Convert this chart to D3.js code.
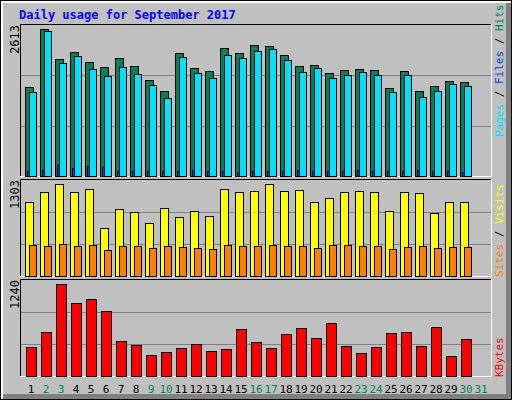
<!DOCTYPE html>
<html>
<head>
<meta charset="utf-8">
<script src="https://cdn.jsdelivr.net/npm/d3@7"></script>
<style>
  body { margin: 0; background: #fff; }
  text { font-family: "DejaVu Sans Mono", monospace; }
</style>
</head>
<body>
<div class="chart"></div>
<script>
// values
const days = d3.range(1, 32);
const weekend = [2, 3, 9, 10, 16, 17, 23, 24, 30, 31];
const hits = [1535, 2538, 2019, 2140, 1967, 1881, 2036, 1898, 1656, 1465, 2123, 1863, 1811, 2209, 2123, 2261, 2244, 2088, 1898, 1915, 1777, 1829, 1846, 1829, 1517, 1811, 1465, 1552, 1638, 1621];
const files = [1448, 2503, 1950, 2071, 1846, 1725, 1881, 1759, 1569, 1344, 2054, 1777, 1690, 2088, 2036, 2157, 2192, 2002, 1794, 1863, 1690, 1742, 1794, 1742, 1448, 1742, 1362, 1465, 1586, 1552];
const pages = [87, 104, 190, 139, 173, 156, 87, 87, 87, 87, 87, 104, 87, 87, 70, 87, 87, 87, 104, 87, 87, 87, 104, 87, 87, 87, 104, 87, 87, 70];
const visits = [1004, 1140, 1249, 1140, 1181, 651, 909, 869, 719, 923, 801, 882, 814, 1181, 1140, 1154, 1249, 1154, 1167, 1004, 1059, 1140, 1154, 1140, 882, 1140, 1126, 855, 1004, 1004];
const sites = [421, 407, 434, 407, 421, 353, 407, 407, 380, 407, 394, 380, 366, 421, 407, 407, 421, 407, 407, 380, 421, 421, 407, 407, 366, 394, 407, 380, 394, 394];
const kbytes = [369, 564, 1188, 941, 993, 837, 447, 395, 277, 304, 356, 408, 317, 343, 603, 434, 356, 538, 616, 486, 681, 382, 291, 369, 551, 564, 382, 629, 252, 473];
const maxHits = 2613, maxVisits = 1303, maxKB = 1240;

const svg = d3.select(".chart").append("svg")
    .attr("width", 512).attr("height", 400);

// frame with bevel
svg.append("rect").attr("x", 0).attr("y", 0).attr("width", 512).attr("height", 400).attr("fill", "#000");
svg.append("rect").attr("x", 1).attr("y", 1).attr("width", 510).attr("height", 398).attr("fill", "#fff");
svg.append("rect").attr("x", 3).attr("y", 3).attr("width", 508).attr("height", 396).attr("fill", "#808080");
svg.append("rect").attr("x", 3).attr("y", 3).attr("width", 503).attr("height", 391).attr("fill", "#c0c0c0");

svg.append("text").attr("x", 19).attr("y", 19)
    .attr("font-size", 12).attr("font-weight", "bold").attr("fill", "#0000ff")
    .text("Daily usage for September 2017");

const x = d3.scaleLinear().domain([1, 31]).range([31, 481]);
const left = 20, right = 491;

const panels = [
    { top: 25, bottom: 176, max: maxHits },
    { top: 180, bottom: 276, max: maxVisits },
    { top: 280, bottom: 376, max: maxKB }
];
panels.forEach(p => {
    p.y = d3.scaleLinear().domain([0, p.max]).range([p.bottom, p.top]);
    const g = svg.append("g");
    [1 / 3, 2 / 3].forEach(f => {
        g.append("line").attr("x1", left).attr("x2", right)
            .attr("y1", Math.round(p.y(p.max * f)) + 0.5).attr("y2", Math.round(p.y(p.max * f)) + 0.5)
            .attr("stroke", "#808080");
    });
    g.append("path").attr("d", `M${left + 0.5},${p.bottom}V${p.top - 0.5}H${right}`)
        .attr("stroke", "#000").attr("fill", "none");
    g.append("path").attr("d", `M${left},${p.bottom + 0.5}H${right + 0.5}V${p.top - 1}`)
        .attr("stroke", "#fff").attr("fill", "none");
    svg.append("text")
        .attr("transform", `translate(19,${p.top}) rotate(-90)`)
        .attr("text-anchor", "end").attr("font-size", 12)
        .text(p.max);
});

function bars(data, panel, dx, w, color) {
    svg.append("g").selectAll("rect").data(data).join("rect")
        .attr("x", (d, i) => x(i + 1) + dx + 0.5)
        .attr("y", d => Math.round(panel.y(d)) + 0.5)
        .attr("width", w)
        .attr("height", d => panel.bottom - Math.round(panel.y(d)))
        .attr("fill", color).attr("stroke", "#000");
}
bars(hits, panels[0], -6, 8, "#00805c");
bars(files, panels[0], -2, 7, "#00e0ff");
bars(pages, panels[0], -4, 2, "#0040ff");
bars(visits, panels[1], -6, 8, "#ffff00");
bars(sites, panels[1], -2, 7, "#ff8000");
bars(kbytes, panels[2], -5, 10, "#ff0000");

// day labels
svg.append("g").selectAll("text").data(days).join("text")
    .attr("x", d => x(d)).attr("y", 393)
    .attr("text-anchor", "middle").attr("font-size", 11)
    .attr("fill", d => weekend.includes(d) ? "#00805c" : "#000")
    .text(d => d);

// right legends
function legend(y, parts) {
    const t = svg.append("text")
        .attr("transform", `translate(503,${y}) rotate(-90)`)
        .attr("font-size", 11);
    parts.forEach(([s, c]) => t.append("tspan").attr("fill", c).text(s));
}
legend(137, [["Pages", "#00e0ff"], [" / ", "#000"], ["Files", "#0040ff"], [" / ", "#000"], ["Hits", "#00805c"]]);
legend(277, [["Sites", "#ff8000"], [" / ", "#000"], ["Visits", "#ffff00"]]);
legend(377, [["KBytes", "#ff0000"]]);
</script>
</body>
</html>
